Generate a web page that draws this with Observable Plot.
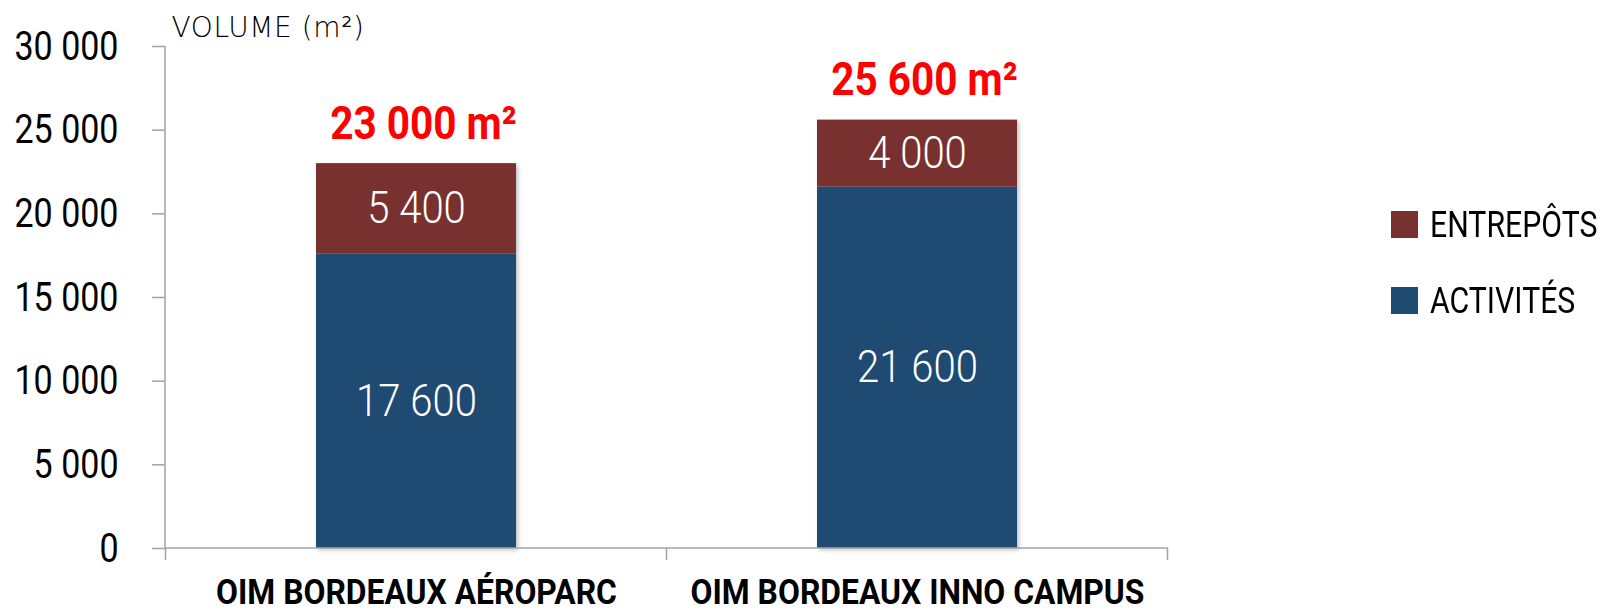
<!DOCTYPE html>
<html><head><meta charset="utf-8">
<script src="https://cdn.jsdelivr.net/npm/d3@7"></script>
<script src="https://cdn.jsdelivr.net/npm/@observablehq/plot@0.6"></script>
<style>
body{margin:0;background:#fff;}
#wrap{position:relative;width:1602px;height:611px;overflow:hidden;background:#fff;}
.lg{position:absolute;left:1391px;height:27px;display:flex;align-items:center;font-family:Roboto,sans-serif;font-size:36px;color:#000;white-space:nowrap;}
.sw{width:27px;height:27px;margin-right:12px;flex:none;}
.lt{display:inline-block;transform:scaleX(0.84);transform-origin:left center;}
</style></head><body><div id="wrap"></div>
<script>
// ---- data ----
const sites = ["OIM BORDEAUX AÉROPARC", "OIM BORDEAUX INNO CAMPUS"];
const types = ["ACTIVITÉS", "ENTREPÔTS"];
const activites = [17600, 21600];
const entrepots = [5400, 4000];
const yTicks = [0, 5000, 10000, 15000, 20000, 25000, 30000];
const colors = ["#1F4A72", "#78312F"];
const axisTitle = "VOLUME (m²)";
const unit = "m²";

// ---- derived table ----
const series = [activites, entrepots];
const rows = [];
types.forEach((t, ti) => sites.forEach((s, si) => rows.push({site: s, type: t, value: series[ti][si]})));
const labelRows = [];
sites.forEach((s, si) => {
  let base = 0;
  types.forEach((t, ti) => {
    const v = series[ti][si];
    labelRows.push({site: s, type: t, value: v, mid: base + v / 2});
    base += v;
  });
});
const totals = sites.map((s, si) => ({site: s, total: d3.sum(series, a => a[si])}));

const fmt = d3.formatLocale({decimal: ",", thousands: "\u00a0", grouping: [3]}).format(",");
const fmtSp = v => fmt(v).replace(/\u00a0/g, " ");
const axisGray = "#a3a3a3";
const font = "Roboto, 'Liberation Sans', sans-serif";

function axisLines(index, scales, values, dimensions) {
  const {x, y} = scales;
  const g = d3.create("svg:g").attr("stroke", axisGray).attr("stroke-width", 1.5).attr("fill", "none");
  const y0 = y(0), yTop = y(d3.max(yTicks));
  const left = dimensions.marginLeft, right = dimensions.width - dimensions.marginRight;
  g.append("line").attr("x1", left).attr("x2", left).attr("y1", yTop).attr("y2", y0);
  g.append("line").attr("x1", left).attr("x2", right).attr("y1", y0).attr("y2", y0);
  const step = x.step(), bw = x.bandwidth();
  const gap = (step - bw) / 2;
  const bounds = sites.map(s => x(s) - gap).concat([x(sites[sites.length - 1]) + bw + gap]);
  bounds.forEach(b => g.append("line").attr("x1", b).attr("x2", b).attr("y1", y0).attr("y2", y0 + 12));
  return g.node();
}

const chart = Plot.plot({
  width: 1602,
  height: 611,
  marginLeft: 165,
  marginRight: 434,
  marginTop: 46,
  marginBottom: 63,
  style: {fontFamily: font, background: "#fff", color: "#000", overflow: "visible"},
  x: {domain: sites, paddingInner: 0.6, paddingOuter: 0.3, axis: null},
  y: {domain: [0, 30000], axis: null},
  color: {domain: types, range: colors},
  marks: [
    Plot.barY(rows, {x: "site", y: "value", fill: "type", order: types}),
    Plot.text(labelRows, {x: "site", y: "mid", text: d => fmtSp(d.value), fill: "#fff", fontSize: 45, fontWeight: 300}),
    Plot.text(totals, {x: "site", y: "total", text: d => fmtSp(d.total) + " " + unit, fill: "#ff0000", fontSize: 47, fontWeight: "bold", lineAnchor: "bottom", dy: -25, dx: 7}),
    Plot.axisY({ticks: yTicks, tickSize: 13, tickPadding: 34, stroke: axisGray, strokeWidth: 1.5, fontSize: 41, tickFormat: fmtSp, label: null}),
    Plot.axisX({tickSize: 0, tickPadding: 31, fontSize: 35, fontWeight: "bold", label: null}),
    axisLines,
    Plot.text([axisTitle], {frameAnchor: "top-left", textAnchor: "start", lineAnchor: "bottom", dx: 6, dy: -10, fontSize: 28, fontWeight: 200, fontFamily: "'DejaVu Sans', sans-serif", fill: "#000"})
  ]
});

// horizontally condense text (reference uses a condensed typeface)
function squeezeAll(texts, s) {
  texts.forEach(t => {
    const x = +(t.getAttribute("x") || 0);
    const tr = t.getAttribute("transform") || "";
    t.setAttribute("transform", `${tr} translate(${x},0) scale(${s},1) translate(${-x},0)`);
  });
}
const textGroups = chart.querySelectorAll('g[aria-label="text"]');
squeezeAll(chart.querySelectorAll('g[aria-label="y-axis tick label"] text'), 0.83);
squeezeAll(chart.querySelectorAll('g[aria-label="x-axis tick label"] text'), 0.91);
if (textGroups[0]) squeezeAll(textGroups[0].querySelectorAll("text"), 0.89);
if (textGroups[1]) squeezeAll(textGroups[1].querySelectorAll("text"), 0.862);
if (textGroups[2]) textGroups[2].querySelectorAll("text").forEach(t => t.setAttribute("letter-spacing", "0.6"));
const bars = chart.querySelector('g[aria-label="bar"]');
if (bars) bars.style.filter = "drop-shadow(2px 2px 2px rgba(0,0,0,0.25))";

const wrap = document.getElementById("wrap");
wrap.appendChild(chart);

// legend (right side)
const legendItems = types.map((t, i) => ({t, c: colors[i]})).reverse();
const legendTops = [211, 287];
legendItems.forEach((it, i) => {
  const d = document.createElement("div");
  d.className = "lg";
  d.style.top = legendTops[i] + "px";
  d.innerHTML = `<span class="sw" style="background:${it.c}"></span><span class="lt">${it.t}</span>`;
  wrap.appendChild(d);
});
</script>
</body></html>
